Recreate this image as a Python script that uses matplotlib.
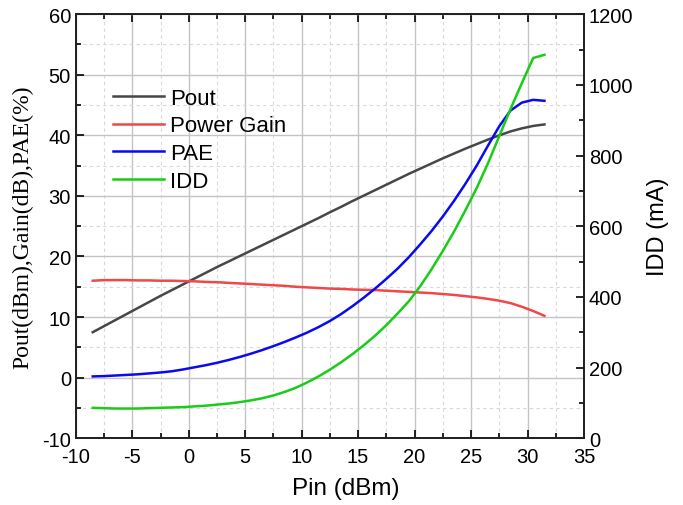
import matplotlib
matplotlib.use("Agg")
import matplotlib.pyplot as plt
from matplotlib.ticker import MultipleLocator

# Data
pin = [-8.5, -7.5, -6.5, -5.5, -4.5, -3.5, -2.5, -1.5, -0.5, 0.5,
       1.5, 2.5, 3.5, 4.5, 5.5, 6.5, 7.5, 8.5, 9.5, 10.5,
       11.5, 12.5, 13.5, 14.5, 15.5, 16.5, 17.5, 18.5, 19.5, 20.5,
       21.5, 22.5, 23.5, 24.5, 25.5, 26.5, 27.5, 28.5, 29.5, 30.5, 31.5]

pout = [7.5, 8.5, 9.5, 10.5, 11.5, 12.5, 13.5, 14.45, 15.4, 16.35,
        17.3, 18.25, 19.15, 20.05, 20.95, 21.85, 22.75, 23.65, 24.55, 25.45,
        26.35, 27.3, 28.2, 29.15, 30.05, 30.95, 31.85, 32.75, 33.65, 34.5,
        35.35, 36.2, 37.0, 37.8, 38.55, 39.3, 40.0, 40.65, 41.15, 41.55, 41.8]

gain = [16.0, 16.1, 16.1, 16.1, 16.05, 16.05, 16.0, 16.0, 15.95, 15.9,
        15.8, 15.75, 15.65, 15.55, 15.45, 15.35, 15.25, 15.15, 15.0, 14.9,
        14.8, 14.7, 14.65, 14.55, 14.5, 14.45, 14.35, 14.25, 14.15, 14.05,
        13.95, 13.8, 13.65, 13.45, 13.25, 13.0, 12.7, 12.3, 11.7, 11.0, 10.2]

pae = [0.2, 0.25, 0.35, 0.45, 0.55, 0.7, 0.85, 1.05, 1.35, 1.7,
       2.05, 2.45, 2.9, 3.4, 3.95, 4.55, 5.2, 5.9, 6.65, 7.45,
       8.35, 9.35, 10.5, 11.8, 13.2, 14.7, 16.3, 18.0, 19.9, 22.0,
       24.2, 26.6, 29.2, 32.0, 35.0, 38.3, 41.5, 44.1, 45.4, 45.86, 45.7]

idd = [86, 85, 84, 84, 84, 85, 86, 87, 88, 90,
       92, 95, 98, 102, 107, 113, 121, 131, 143, 158,
       175, 194, 215, 238, 263, 290, 320, 353, 388, 430,
       478, 530, 585, 645, 708, 778, 855, 932, 1005, 1076, 1085]

GRAY = "#474747"
RED = "#f04848"
BLUE = "#0a0aee"
GREEN = "#18cc18"

plt.rcParams["font.family"] = ["Liberation Sans", "DejaVu Sans"]
plt.rcParams["axes.unicode_minus"] = False

fig = plt.figure(figsize=(6.83, 5.06), dpi=100)
ax = fig.add_axes([0.111, 0.132, 0.744, 0.838])
ax2 = ax.twinx()

lw = 1.8
ax.plot(pin, pout, color=GRAY, lw=lw, label="Pout")
ax.plot(pin, gain, color=RED, lw=lw, label="Power Gain")
ax.plot(pin, pae, color=BLUE, lw=lw, label="PAE")
ax2.plot(pin, idd, color=GREEN, lw=lw, label="IDD")

ax.set_xlim(-10, 35)
ax.set_ylim(-10, 60)
ax2.set_ylim(0, 1200)

ax.xaxis.set_major_locator(MultipleLocator(5))
ax.xaxis.set_minor_locator(MultipleLocator(2.5))
ax.yaxis.set_major_locator(MultipleLocator(10))
ax.yaxis.set_minor_locator(MultipleLocator(5))
ax2.yaxis.set_major_locator(MultipleLocator(200))
ax2.yaxis.set_minor_locator(MultipleLocator(100))

ax.grid(which="major", color="#c4c4c4", lw=1.0, ls="-")
ax.grid(which="minor", color="#d8d8d8", lw=0.8, ls=(0, (3, 3)))
ax.set_axisbelow(True)

ax.tick_params(which="both", direction="in", top=True, right=False,
               labelsize=14.5, colors="black", width=1.2)
ax.tick_params(which="major", length=6)
ax.tick_params(which="minor", length=3.5)
ax.tick_params(axis="x", pad=6)
ax2.tick_params(which="both", direction="in", labelsize=14.5, width=1.2)
ax2.tick_params(which="major", length=6)
ax2.tick_params(which="minor", length=3.5)

for sp in list(ax.spines.values()) + list(ax2.spines.values()):
    sp.set_linewidth(1.3)
    sp.set_color("#222222")

ax.set_xlabel("Pin (dBm)", fontsize=17.5, labelpad=8, x=0.532)
ax.set_ylabel("Pout(dBm),Gain(dB),PAE(%)", fontsize=17,
              family=["Liberation Serif", "DejaVu Serif"], labelpad=6)
ax2.set_ylabel("IDD (mA)", fontsize=17, labelpad=10)

h1, l1 = ax.get_legend_handles_labels()
h2, l2 = ax2.get_legend_handles_labels()
ax.legend(h1 + h2, l1 + l2, loc="upper left", bbox_to_anchor=(0.043, 0.863),
          frameon=False, fontsize=16, handlelength=2.3, handletextpad=0.27,
          labelspacing=0.3, borderpad=0.2)

fig.savefig("out.png", dpi=100, facecolor="white")
